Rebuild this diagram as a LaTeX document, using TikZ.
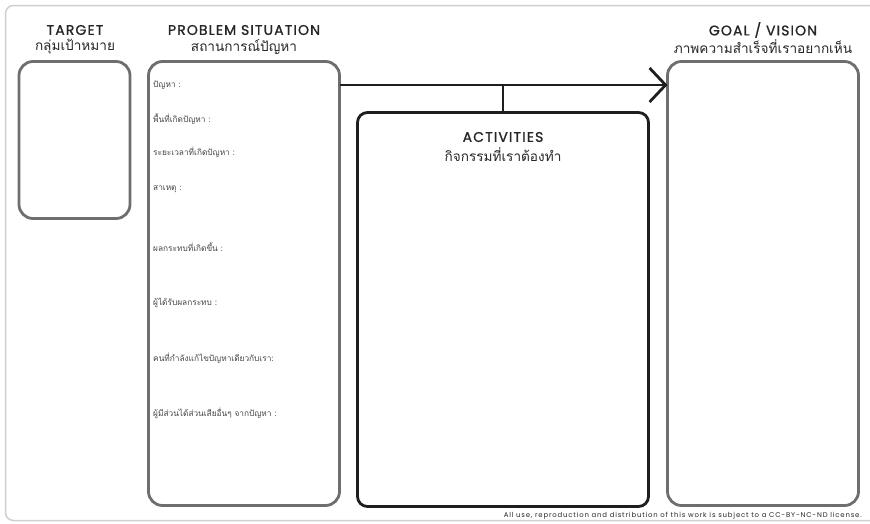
\documentclass[tikz,border=0pt]{standalone}
\usepackage{fontspec}
\usepackage{graphicx}
\usetikzlibrary{arrows.meta}
\setmainfont{Poppins}
\newfontfamily\headfont[LetterSpace=8, FakeBold=1.2]{Poppins}
\newfontfamily\thaifont[Script=Thai]{Loma}
\newfontfamily\licfont[LetterSpace=12]{Poppins}
\definecolor{boxgray}{HTML}{6E6E6E}
\definecolor{boxdark}{HTML}{1E1E1E}
\definecolor{framegray}{HTML}{CFCFCF}
\definecolor{labgray}{HTML}{444444}
\tikzset{
  gbox/.style={draw=boxgray, line width=2.8pt, rounded corners=14pt, inner sep=0pt, outer sep=0pt},
  dbox/.style={draw=boxdark, line width=2.8pt, rounded corners=10pt, inner sep=0pt, outer sep=0pt},
  head/.style={font=\headfont\fontsize{14}{16}\selectfont, text=black!85, inner sep=0pt},
  thaihead/.style={font=\thaifont\fontsize{13.6}{16}\selectfont, text=black!85, inner sep=0pt},
  lab/.style={font=\thaifont\fontsize{8.3}{9}\selectfont, text=labgray, anchor=west, inner sep=0pt},
  conn/.style={draw=boxdark, line width=2.8pt},
}
\begin{document}
\begin{tikzpicture}[x=1pt,y=-1pt]
\useasboundingbox (0,0) rectangle (870,523);
\clip (0,0) rectangle (870,523);
\draw[framegray, line width=1.5pt, rounded corners=8pt] (5.5,5.5) rectangle (900,520.5);
% boxes
\node[gbox, minimum width=111pt, minimum height=157pt] (target) at (74.5,140) {};
\node[gbox, minimum width=191pt, minimum height=444pt] (problem) at (244,283.5) {};
\node[dbox, minimum width=291pt, minimum height=394pt] (activities) at (503,309.5) {};
\node[gbox, minimum width=191pt, minimum height=444pt] (goal) at (763,283.5) {};
% connectors
\coordinate (junction) at (activities.north |- 0,85);
\draw[conn, -{Straight Barb[length=16pt, width=34pt, line width=2.8pt]}] (problem.east |- 0,85) -- (goal.west |- 0,85);
\draw[conn] (junction) -- (activities.north);
% headers
\node[head] (th) at (75,30) {TARGET};
\node[thaihead] (tt) at (75,47) {กลุ่มเป้าหมาย};
\node[head] (ph) at (244,30) {PROBLEM SITUATION};
\node[thaihead] (pt) at (244,47) {สถานการณ์ปัญหา};
\node[head] (gh) at (763,30) {GOAL / VISION};
\node[thaihead] (gt) at (763,47) {ภาพความสำเร็จที่เราอยากเห็น};
\node[head] (ah) at (503,137) {ACTIVITIES};
\node[thaihead] (at2) at (503,155) {กิจกรรมที่เราต้องทำ};
% problem labels
\node[lab] (l1) at (153,85) {ปัญหา :};
\node[lab] (l2) at (153,119) {พื้นที่เกิดปัญหา :};
\node[lab] (l3) at (153,152) {ระยะเวลาที่เกิดปัญหา :};
\node[lab] (l4) at (153,189) {สาเหตุ :};
\node[lab] (l5) at (153,247) {ผลกระทบที่เกิดขึ้น :};
\node[lab] (l6) at (153,303) {ผู้ได้รับผลกระทบ :};
\node[lab] (l7) at (153,358) {คนที่กำลังแก้ไขปัญหาเดียวกับเรา:};
\node[lab] (l8) at (153,413) {ผู้มีส่วนได้ส่วนเสียอื่นๆ จากปัญหา :};
% license
\node[anchor=east, inner sep=0pt, text=black!85] (lic) at (862,516) {\resizebox{358pt}{!}{\licfont All use, reproduction and distribution of this work is subject to a CC-BY-NC-ND license.}};
\end{tikzpicture}
\end{document}
